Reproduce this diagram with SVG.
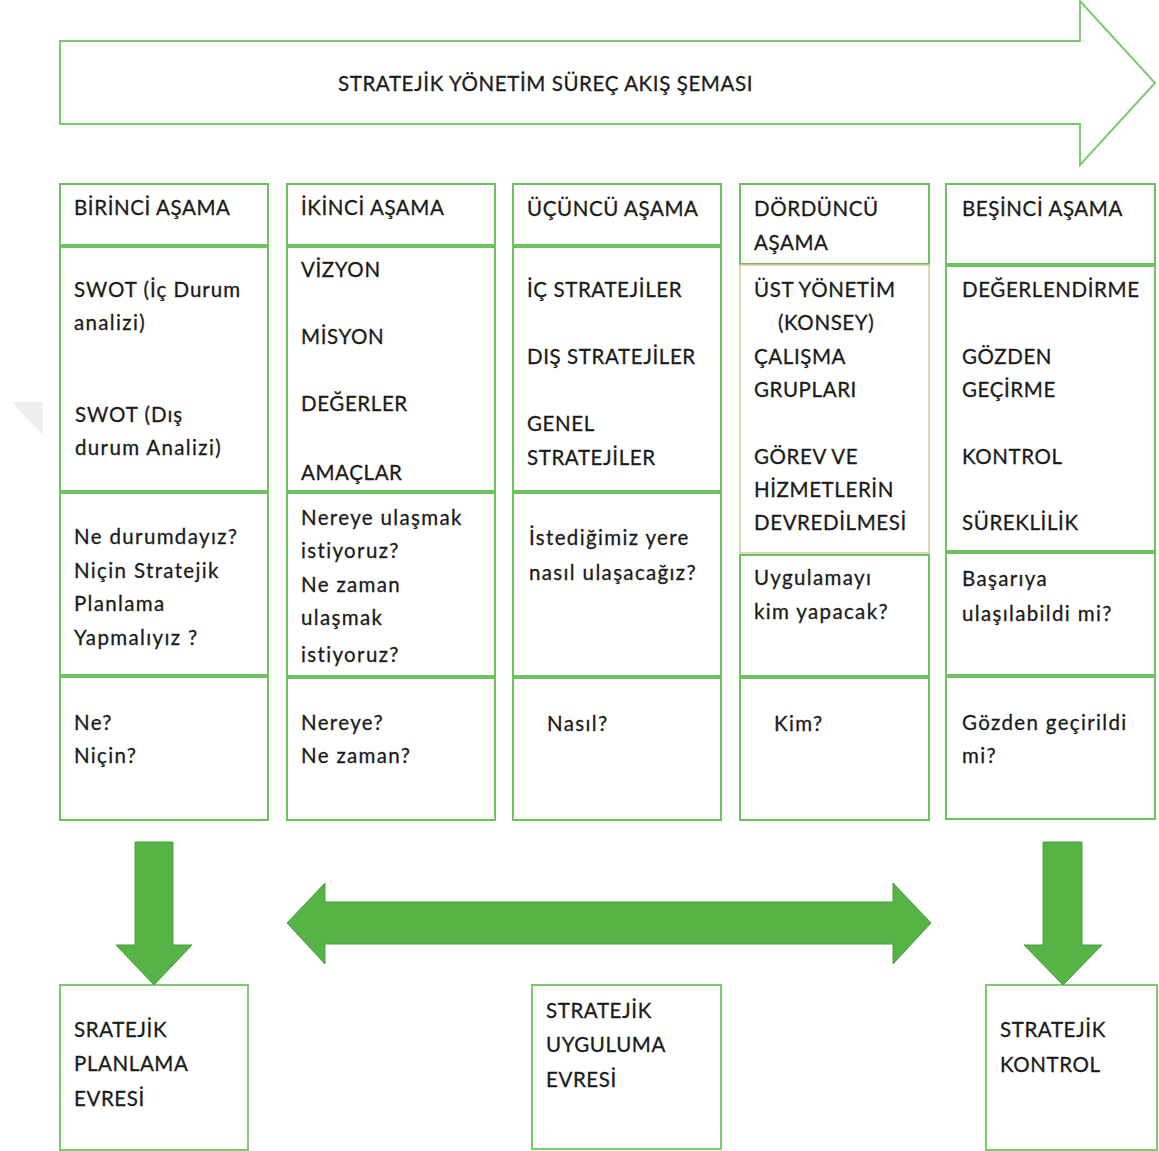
<svg xmlns="http://www.w3.org/2000/svg" width="1159" height="1151" viewBox="0 0 1159 1151">
  <style>
    .t { font-family: Lato, "Open Sans", "Liberation Sans", sans-serif; font-size: 20.5px; letter-spacing: 0.6px; fill: #1b1b1b; stroke: #1b1b1b; stroke-width: 0.3; }
    .lc { letter-spacing: 1.35px; }
    .cell { fill: #ffffff; stroke: #6cc35f; stroke-width: 2; }
    .tan { fill: #ffffff; stroke: #d9c79a; stroke-width: 1.5; }
    .outline { fill: #ffffff; stroke: #7acb6e; stroke-width: 2; }
    .solid { fill: #56b447; stroke: #4a9f3e; stroke-width: 1; }
  </style>

  <rect width="1159" height="1151" fill="#ffffff"/>

  <!-- faint corner mark on the left margin -->
  <polygon points="12,402 43,402 43,436" fill="#eeeeee"/>

  <!-- title banner arrow -->
  <g id="title">
    <polygon class="outline" points="60,41 1080,41 1080,1 1155,83 1080,165 1080,124 60,124"/>
    <text class="t" x="338" y="91">STRATEJİK YÖNETİM SÜREÇ AKIŞ ŞEMASI</text>
  </g>

  <!-- stage 1 -->
  <g id="stage1">
    <rect class="cell" x="60" y="184" width="208" height="61"/>
    <rect class="cell" x="60" y="247" width="208" height="244"/>
    <rect class="cell" x="60" y="493" width="208" height="182"/>
    <rect class="cell" x="60" y="677" width="208" height="143"/>
    <text class="t" x="74" y="215">BİRİNCİ AŞAMA</text>
    <text class="t" x="74" y="297" style="letter-spacing:1px">SWOT (İç Durum</text>
    <text class="t lc" x="74" y="330">analizi)</text>
    <text class="t" x="75" y="422" style="letter-spacing:1px">SWOT (Dış</text>
    <text class="t lc" x="75" y="455">durum Analizi)</text>
    <text class="t lc" x="74" y="544">Ne durumdayız?</text>
    <text class="t lc" x="74" y="578">Niçin Stratejik</text>
    <text class="t lc" x="74" y="611">Planlama</text>
    <text class="t lc" x="74" y="645">Yapmalıyız ?</text>
    <text class="t lc" x="74" y="730">Ne?</text>
    <text class="t lc" x="74" y="763">Niçin?</text>
  </g>

  <!-- stage 2 -->
  <g id="stage2">
    <rect class="cell" x="287" y="184" width="208" height="61"/>
    <rect class="cell" x="287" y="247" width="208" height="244"/>
    <rect class="cell" x="287" y="493" width="208" height="183"/>
    <rect class="cell" x="287" y="678" width="208" height="142"/>
    <text class="t" x="301" y="215">İKİNCİ AŞAMA</text>
    <text class="t" x="301" y="277">VİZYON</text>
    <text class="t" x="301" y="344">MİSYON</text>
    <text class="t" x="301" y="411">DEĞERLER</text>
    <text class="t" x="301" y="480">AMAÇLAR</text>
    <text class="t lc" x="301" y="525">Nereye ulaşmak</text>
    <text class="t lc" x="301" y="558">istiyoruz?</text>
    <text class="t lc" x="301" y="592">Ne zaman</text>
    <text class="t lc" x="301" y="625">ulaşmak</text>
    <text class="t lc" x="301" y="662">istiyoruz?</text>
    <text class="t lc" x="301" y="730">Nereye?</text>
    <text class="t lc" x="301" y="763">Ne zaman?</text>
  </g>

  <!-- stage 3 -->
  <g id="stage3">
    <rect class="cell" x="513" y="184" width="208" height="61"/>
    <rect class="cell" x="513" y="247" width="208" height="244"/>
    <rect class="cell" x="513" y="493" width="208" height="183"/>
    <rect class="cell" x="513" y="678" width="208" height="142"/>
    <text class="t" x="527" y="216">ÜÇÜNCÜ AŞAMA</text>
    <text class="t" x="527" y="297">İÇ STRATEJİLER</text>
    <text class="t" x="527" y="364">DIŞ STRATEJİLER</text>
    <text class="t" x="527" y="431">GENEL</text>
    <text class="t" x="527" y="465">STRATEJİLER</text>
    <text class="t lc" x="529" y="545">İstediğimiz yere</text>
    <text class="t lc" x="529" y="580">nasıl ulaşacağız?</text>
    <text class="t lc" x="547" y="731">Nasıl?</text>
  </g>

  <!-- stage 4 -->
  <g id="stage4">
    <rect class="cell" x="740" y="184" width="189" height="80"/>
    <rect class="tan" x="740" y="265" width="189" height="288"/>
    <rect class="cell" x="740" y="555" width="189" height="121"/>
    <rect class="cell" x="740" y="678" width="189" height="142"/>
    <text class="t" x="754" y="216">DÖRDÜNCÜ</text>
    <text class="t" x="754" y="250">AŞAMA</text>
    <text class="t" x="754" y="297">ÜST YÖNETİM</text>
    <text class="t" x="778" y="330">(KONSEY)</text>
    <text class="t" x="754" y="364">ÇALIŞMA</text>
    <text class="t" x="754" y="397">GRUPLARI</text>
    <text class="t" x="754" y="464">GÖREV VE</text>
    <text class="t" x="754" y="497">HİZMETLERİN</text>
    <text class="t" x="754" y="530">DEVREDİLMESİ</text>
    <text class="t lc" x="754" y="585">Uygulamayı</text>
    <text class="t lc" x="754" y="619">kim yapacak?</text>
    <text class="t lc" x="774" y="731">Kim?</text>
  </g>

  <!-- stage 5 -->
  <g id="stage5">
    <rect class="cell" x="946" y="184" width="209" height="80"/>
    <rect class="cell" x="946" y="266" width="209" height="285"/>
    <rect class="cell" x="946" y="553" width="209" height="122"/>
    <rect class="cell" x="946" y="677" width="209" height="142"/>
    <text class="t" x="962" y="216">BEŞİNCİ AŞAMA</text>
    <text class="t" x="962" y="297">DEĞERLENDİRME</text>
    <text class="t" x="962" y="364">GÖZDEN</text>
    <text class="t" x="962" y="397">GEÇİRME</text>
    <text class="t" x="962" y="464">KONTROL</text>
    <text class="t" x="962" y="530">SÜREKLİLİK</text>
    <text class="t lc" x="962" y="586">Başarıya</text>
    <text class="t lc" x="962" y="621">ulaşılabildi mi?</text>
    <text class="t lc" x="962" y="730">Gözden geçirildi</text>
    <text class="t lc" x="962" y="763">mi?</text>
  </g>

  <!-- phase boxes -->
  <g id="phase-planning">
    <rect class="outline" x="60" y="985" width="188" height="165"/>
    <text class="t" x="74" y="1037">SRATEJİK</text>
    <text class="t" x="74" y="1071">PLANLAMA</text>
    <text class="t" x="74" y="1106">EVRESİ</text>
  </g>
  <g id="phase-implementation">
    <rect class="outline" x="532" y="985" width="189" height="164"/>
    <text class="t" x="546" y="1018">STRATEJİK</text>
    <text class="t" x="546" y="1052">UYGULUMA</text>
    <text class="t" x="546" y="1087">EVRESİ</text>
  </g>
  <g id="phase-control">
    <rect class="outline" x="986" y="985" width="171" height="165"/>
    <text class="t" x="1000" y="1037">STRATEJİK</text>
    <text class="t" x="1000" y="1072">KONTROL</text>
  </g>

  <!-- block arrows between stages and phases -->
  <g id="connectors">
    <polygon class="solid" points="135,842 173,842 173,945 192,945 154,985 116,945 135,945"/>
    <polygon class="solid" points="1043,842 1082,842 1082,945 1102,945 1063,985 1024,945 1043,945"/>
    <polygon class="solid" points="287,923 325,883 325,902 893,902 893,883 931,923 893,964 893,944 325,944 325,964"/>
  </g>
</svg>
